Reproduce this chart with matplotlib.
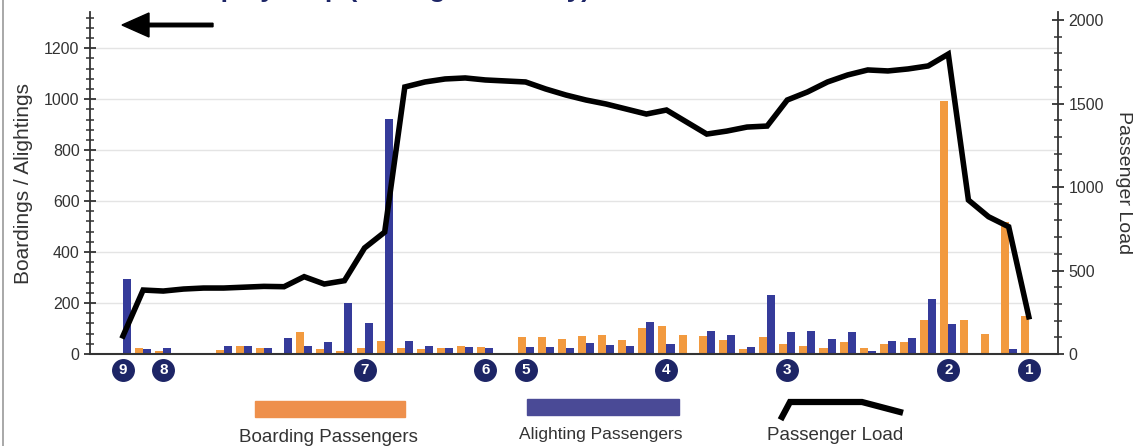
import matplotlib.pyplot as plt
import matplotlib.transforms as mtransforms
from matplotlib.patches import Rectangle, FancyArrow
from matplotlib.lines import Line2D
from matplotlib.ticker import MultipleLocator
import numpy as np

plt.rcParams['font.family'] = ['Liberation Sans', 'DejaVu Sans']

# boardings / alightings per stop (left axis), load (right axis)
boarding = [0, 25, 10, 3, 3, 15, 31, 23, 5, 85, 18, 10, 22, 52, 22, 18, 22, 33, 29, 5,
            68, 68, 57, 71, 75, 53, 103, 110, 75, 72, 55, 18, 68, 39, 33, 24, 47, 22, 38, 46,
            133, 992, 132, 78, 518, 150]
alighting = [295, 18, 25, 3, 3, 31, 30, 22, 63, 33, 46, 199, 123, 922, 50, 33, 24, 26, 24, 2,
             29, 29, 25, 44, 34, 31, 125, 39, 4, 90, 75, 26, 231, 85, 90, 59, 85, 13, 52, 64,
             214, 116, 3, 3, 18, 2]
load = [108, 383, 377, 389, 395, 395, 400, 405, 403, 463, 419, 439, 635, 730, 1599, 1629,
        1647, 1653, 1641, 1635, 1629, 1587, 1551, 1521, 1497, 1467, 1437, 1461, 1389, 1317,
        1335, 1359, 1365, 1521, 1569, 1629, 1671, 1701, 1695, 1707, 1725, 1796, 922, 822,
        762, 223]
# timepoint markers: stop index -> label
timepoints = {0: '9', 2: '8', 12: '7', 18: '6', 20: '5', 27: '4', 33: '3', 41: '2', 45: '1'}

ORANGE = '#f29a3f'
BLUE = '#353b9a'
NAVY = '#1d2566'
DARK = '#333333'

W, H = 1145, 446
fig = plt.figure(figsize=(W / 100, H / 100), dpi=100)
ax = fig.add_axes([90 / W, 92 / H, 968 / W, 342 / H])
ax2 = ax.twinx()

x = np.arange(len(load))
ax.bar(x - 0.2, boarding, 0.4, color=ORANGE, zorder=2)
ax.bar(x + 0.2, alighting, 0.4, color=BLUE, zorder=2)
ax2.plot(x, load, color='black', lw=4.0, solid_joinstyle='miter', zorder=3)

ax.set_xlim(-1.64, 46.45)
ax.set_ylim(0, 1342)
ax2.set_ylim(0, 2048)

ax.set_xticks([])
ax.yaxis.set_major_locator(MultipleLocator(200))
ax.yaxis.set_minor_locator(MultipleLocator(40))
ax2.yaxis.set_major_locator(MultipleLocator(500))
ax2.yaxis.set_minor_locator(MultipleLocator(100))
ax.set_yticks(np.arange(0, 1201, 200))
ax2.set_yticks(np.arange(0, 2001, 500))

for a in (ax, ax2):
    a.tick_params(axis='y', which='major', direction='inout', length=9, width=1.3,
                  color=DARK, labelsize=11.5, labelcolor=DARK, pad=3)
    a.tick_params(axis='y', which='minor', direction='inout', length=6, width=1.1, color=DARK)
    for s in a.spines.values():
        s.set_visible(False)
    a.set_facecolor('none')
ax.spines['left'].set_visible(True)
ax.spines['left'].set_color(DARK)
ax.spines['left'].set_linewidth(1.3)
ax.spines['bottom'].set_visible(True)
ax.spines['bottom'].set_color(DARK)
ax.spines['bottom'].set_linewidth(1.5)
ax2.spines['right'].set_visible(True)
ax2.spines['right'].set_color(DARK)
ax2.spines['right'].set_linewidth(1.3)
ax2.tick_params(axis='x', bottom=False, labelbottom=False)

ax.grid(axis='y', which='major', color='#e4e4e4', lw=1)
ax.set_axisbelow(True)

ax.set_ylabel('Boardings / Alightings', fontsize=15, color=DARK, labelpad=8)
ax2.set_ylabel('Passenger Load', fontsize=14, color=DARK, rotation=270, labelpad=20)

# timepoint circles under the axis
trans = mtransforms.blended_transform_factory(ax.transData, ax.transAxes)
for i, lab in timepoints.items():
    ax.plot(i, -0.047, 'o', ms=15.5, color=NAVY, transform=trans, clip_on=False, zorder=5)
    ax.text(i, -0.047, lab, transform=trans, color='white', fontsize=11, fontweight='bold',
            ha='center', va='center', zorder=6)

# arrow top left
fig.add_artist(FancyArrow(213, H - 25, -91, 0, width=3.5, head_width=24, head_length=27,
                          length_includes_head=True, color='black',
                          transform=mtransforms.IdentityTransform()))

# cropped title at the very top (only descenders visible, as in the source)
fig.text(590 / W, 1.0 + 3 / H, 'Ridership by Stop (Average Weekday)', ha='right', va='baseline',
         fontsize=19, fontweight='bold', color=NAVY)

# legend row
fig.add_artist(Rectangle((255 / W, (H - 417) / H), 150 / W, 16 / H, color='#ee904c',
                         transform=fig.transFigure))
fig.add_artist(Rectangle((527 / W, (H - 415) / H), 152 / W, 16 / H, color='#4a4a96',
                         transform=fig.transFigure))
lx = [782, 790, 862, 900]
ly = [417, 402, 402, 412]
fig.add_artist(Line2D([v / W for v in lx], [(H - v) / H for v in ly], color='black', lw=4.5,
                      solid_joinstyle='miter', transform=fig.transFigure))
fig.text(328 / W, (H - 437) / H, 'Boarding Passengers', ha='center', va='center', fontsize=13.5, color=DARK)
fig.text(601 / W, (H - 435) / H, 'Alighting Passengers', ha='center', va='center', fontsize=12.5, color=DARK)
fig.text(835 / W, (H - 435) / H, 'Passenger Load', ha='center', va='center', fontsize=13.5, color=DARK)

# thin frame line at left edge
fig.add_artist(Line2D([3 / W, 3 / W], [0, 1], color='#9a9a9a', lw=1.2, transform=fig.transFigure))

fig.savefig('out.png', dpi=100)
